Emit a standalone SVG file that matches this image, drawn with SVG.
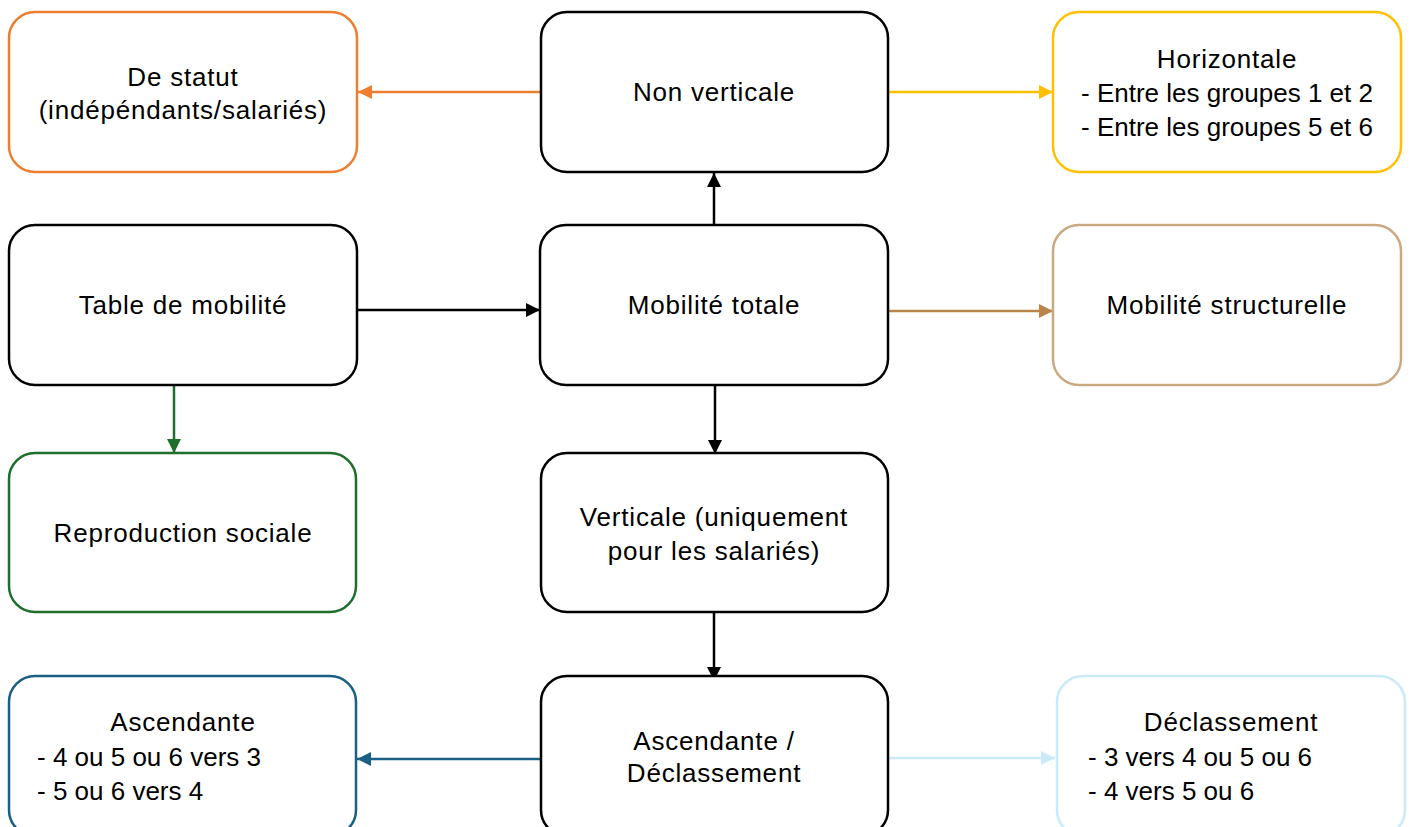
<svg xmlns="http://www.w3.org/2000/svg" width="1410" height="827" viewBox="0 0 1410 827">
<defs>
<style>
.box{fill:#fff;stroke-width:2.5}
.t{font-family:"Liberation Sans",Arial,sans-serif;font-size:26px;letter-spacing:0.8px;fill:#000}
.n{letter-spacing:0}
.c{text-anchor:middle}
.ln{fill:none;stroke-width:2.5}
</style>
<marker id="mk" markerUnits="userSpaceOnUse" markerWidth="16" markerHeight="16" refX="14" refY="7" orient="auto"><path d="M0,0 L14,7 L0,14 Z" fill="#000"/></marker>
<marker id="mo" markerUnits="userSpaceOnUse" markerWidth="16" markerHeight="16" refX="14" refY="7" orient="auto"><path d="M0,0 L14,7 L0,14 Z" fill="#ED7D31"/></marker>
<marker id="my" markerUnits="userSpaceOnUse" markerWidth="16" markerHeight="16" refX="14" refY="7" orient="auto"><path d="M0,0 L14,7 L0,14 Z" fill="#FFC000"/></marker>
<marker id="mb" markerUnits="userSpaceOnUse" markerWidth="16" markerHeight="16" refX="14" refY="7" orient="auto"><path d="M0,0 L14,7 L0,14 Z" fill="#B8864B"/></marker>
<marker id="mg" markerUnits="userSpaceOnUse" markerWidth="16" markerHeight="16" refX="14" refY="7" orient="auto"><path d="M0,0 L14,7 L0,14 Z" fill="#1E6E2C"/></marker>
<marker id="md" markerUnits="userSpaceOnUse" markerWidth="16" markerHeight="16" refX="14" refY="7" orient="auto"><path d="M0,0 L14,7 L0,14 Z" fill="#1B5F84"/></marker>
<marker id="ml" markerUnits="userSpaceOnUse" markerWidth="16" markerHeight="16" refX="14" refY="7" orient="auto"><path d="M0,0 L14,7 L0,14 Z" fill="#C8EAF9"/></marker>
</defs>
<rect width="1410" height="827" fill="#fff"/>
<g id="connectors">
<line class="ln" x1="541" y1="92" x2="358" y2="92" stroke="#ED7D31" marker-end="url(#mo)"/>
<line class="ln" x1="888" y1="92" x2="1053" y2="92" stroke="#FFC000" marker-end="url(#my)"/>
<line class="ln" x1="714" y1="225" x2="714" y2="173" stroke="#000" marker-end="url(#mk)"/>
<line class="ln" x1="357" y1="310" x2="540" y2="310" stroke="#000" marker-end="url(#mk)"/>
<line class="ln" x1="888" y1="311" x2="1053" y2="311" stroke="#B8864B" marker-end="url(#mb)"/>
<line class="ln" x1="715" y1="385" x2="715" y2="454" stroke="#000" marker-end="url(#mk)"/>
<line class="ln" x1="174" y1="385" x2="174" y2="453" stroke="#1E6E2C" marker-end="url(#mg)"/>
<line class="ln" x1="714" y1="612" x2="714" y2="681" stroke="#000" marker-end="url(#mk)"/>
<line class="ln" x1="541" y1="759" x2="357" y2="759" stroke="#1B5F84" marker-end="url(#md)"/>
<line class="ln" x1="888" y1="758" x2="1055" y2="758" stroke="#C8EAF9" marker-end="url(#ml)"/>
</g>
<g id="n-statut">
<rect class="box" x="9" y="12" width="348" height="160" rx="26" stroke="#ED7D31"/>
<text class="t c" x="183" y="86">De statut</text>
<text class="t c" x="183" y="119">(indépéndants/salariés)</text>
</g>
<g id="n-nonvert">
<rect class="box" x="541" y="12" width="347" height="160" rx="26" stroke="#000"/>
<text class="t c" x="714" y="101">Non verticale</text>
</g>
<g id="n-horiz">
<rect class="box" x="1053" y="12" width="348" height="160" rx="26" stroke="#FFC000"/>
<text class="t c" x="1227" y="68">Horizontale</text>
<text class="t c n" x="1227" y="102">- Entre les groupes 1 et 2</text>
<text class="t c n" x="1227" y="136">- Entre les groupes 5 et 6</text>
</g>
<g id="n-table">
<rect class="box" x="9" y="225" width="348" height="160" rx="26" stroke="#000"/>
<text class="t c" x="183" y="314">Table de mobilité</text>
</g>
<g id="n-totale">
<rect class="box" x="540" y="225" width="348" height="160" rx="26" stroke="#000"/>
<text class="t c" x="714" y="314">Mobilité totale</text>
</g>
<g id="n-struct">
<rect class="box" x="1053" y="225" width="348" height="160" rx="26" stroke="#C9A882"/>
<text class="t c" x="1227" y="314">Mobilité structurelle</text>
</g>
<g id="n-repro">
<rect class="box" x="9" y="453" width="347" height="159" rx="26" stroke="#1E6E2C"/>
<text class="t c" x="183" y="542">Reproduction sociale</text>
</g>
<g id="n-vert">
<rect class="box" x="541" y="453" width="347" height="159" rx="26" stroke="#000"/>
<text class="t c" x="714" y="526">Verticale (uniquement</text>
<text class="t c" x="714" y="560">pour les salariés)</text>
</g>
<g id="n-asc">
<rect class="box" x="9" y="676" width="347" height="160" rx="26" stroke="#1B5F84"/>
<text class="t c" x="183" y="731">Ascendante</text>
<text class="t n" x="37" y="766">- 4 ou 5 ou 6 vers 3</text>
<text class="t n" x="37" y="800">- 5 ou 6 vers 4</text>
</g>
<g id="n-ascdecl">
<rect class="box" x="541" y="676" width="347" height="160" rx="26" stroke="#000"/>
<text class="t c" x="714" y="750">Ascendante /</text>
<text class="t c" x="714" y="782">Déclassement</text>
</g>
<g id="n-decl">
<rect class="box" x="1057" y="676" width="348" height="160" rx="26" stroke="#C8EAF9"/>
<text class="t c" x="1231" y="731">Déclassement</text>
<text class="t n" x="1088" y="766">- 3 vers 4 ou 5 ou 6</text>
<text class="t n" x="1088" y="800">- 4 vers 5 ou 6</text>
</g>
</svg>
